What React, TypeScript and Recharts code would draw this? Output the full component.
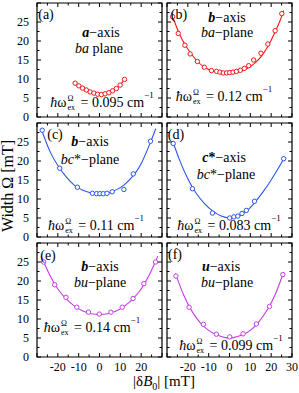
import React from 'react';
import { ComposedChart, XAxis, YAxis, Scatter, Line, ReferenceArea } from 'recharts';

const FONT = '"Liberation Serif", "Times New Roman", serif';

// axis ticks and labels
const xTicks = [-30, -25, -20, -15, -10, -5, 0, 5, 10, 15, 20, 25, 30];
const yTicks = [0, 2.5, 5, 7.5, 10, 12.5, 15, 17.5, 20, 22.5, 25, 27.5, 30];
const yLabels = [0, 5, 10, 15, 20, 25];
const xLabelsLeft = [-20, -10, 0, 10, 20];
const xLabelsRight = [-20, -10, 0, 10, 20, 30];

// (a) a-axis, ba plane
const aX = [-11.7, -9.9, -8.1, -6.3, -4.5, -2.7, -0.9, 0.9, 2.7, 4.5, 6.3, 8.1, 9.9, 12.0];
const aY = [8.9, 8.2, 7.6, 7.1, 6.6, 6.3, 6.0, 5.9, 6.1, 6.4, 6.9, 7.5, 8.4, 9.9];

// (b) b-axis, ba-plane
const bX = [-27.3, -24.6, -21.4, -18.9, -15.4, -12.1, -8.7, -6.2, -4.6, -3.0, -1.4, 0.1, 1.7, 3.3, 5.2, 7.1, 9.2, 11.6, 15.1, 18.4, 21.9, 25.1];
const bY = [26.4, 22.0, 18.9, 16.6, 14.6, 13.1, 12.2, 12.0, 11.8, 11.6, 11.6, 11.7, 11.8, 12.0, 12.3, 12.8, 13.5, 15.0, 16.8, 19.2, 22.7, 27.2];
const bFitX = [-28, -24, -20, -16, -12, -8, -4, 0, 4, 8, 12, 16, 20, 24, 26];
const bFitY = [27.5, 21.8, 17.9, 15.0, 13.1, 12.1, 11.6, 11.5, 11.8, 12.6, 14.1, 16.5, 20.2, 25.0, 28.0];

// (c) b-axis, bc*-plane
const cX = [-27.5, -19.1, -10.6, -3.4, -1.4, 0.2, 1.8, 3.6, 6.1, 11.7, 16.2, 24.5];
const cY = [28.1, 18.1, 13.1, 11.5, 11.4, 11.4, 11.4, 11.5, 11.9, 12.5, 16.6, 25.2];
const cFitX = [-28, -24, -20, -16, -12, -8, -4, 0, 4, 8, 12, 16, 20, 24, 27];
const cFitY = [28.5, 22.8, 18.8, 15.8, 13.6, 12.3, 11.6, 11.4, 11.6, 12.4, 13.8, 16.0, 19.3, 24.3, 28.5];

// (d) c*-axis, bc*-plane
const dX = [-27.0, -17.8, -8.2, 0.1, 2.1, 4.0, 6.0, 8.1, 12.0, 26.0];
const dY = [24.6, 12.7, 6.3, 5.0, 5.3, 5.5, 6.2, 7.0, 9.4, 20.6];
const dFitX = [-27, -24, -20, -16, -12, -8, -4, 0, 4, 8, 12, 16, 20, 24, 26];
const dFitY = [24.8, 20.3, 15.3, 11.5, 8.8, 6.8, 5.5, 5.0, 5.4, 6.7, 9.0, 11.8, 15.0, 18.6, 20.6];

// (e) b-axis, bu-plane
const eX = [-26.8, -21.5, -16.1, -10.9, -5.3, -0.1, 5.5, 10.9, 16.1, 21.3, 26.9];
const eY = [25.0, 19.0, 15.7, 13.1, 11.8, 11.3, 11.8, 13.1, 15.4, 19.3, 25.0];
const eFitX = [-28, -24, -20, -16, -12, -8, -4, 0, 4, 8, 12, 16, 20, 24, 28];
const eFitY = [26.5, 21.7, 17.9, 15.3, 13.4, 12.1, 11.4, 11.2, 11.4, 12.1, 13.4, 15.3, 17.9, 21.7, 26.5];

// (f) u-axis, bu-plane
const fX = [-25.7, -19.4, -12.5, -6.3, 0.1, 6.5, 12.9, 19.2, 25.6];
const fY = [21.3, 13.1, 8.6, 6.0, 5.3, 6.1, 8.7, 13.3, 21.7];
const fFitX = [-26, -22, -18, -14, -10, -6, -2, 0, 2, 6, 10, 14, 18, 22, 26];
const fFitY = [22.0, 16.3, 12.0, 9.0, 7.0, 5.8, 5.1, 5.0, 5.1, 5.8, 7.0, 9.2, 12.3, 16.5, 22.3];

const RED = '#f01818';
const BLUE = '#2a55ee';
const MAGENTA = '#c53ce8';

const PLOT_W = 125;
const PLOT_H = 114;
const PAD_L = 30;
const PAD_T = 2;
const PAD_R = 10;
const PAD_B = 22;

const zip = (xs: number[], ys: number[]) => xs.map((x, i) => ({ x, y: ys[i] }));

const XTick = (props: any) => {
  const { x, y, payload, labels } = props;
  const v = payload.value;
  const len = v % 10 === 0 ? 4 : 2.5;
  return (
    <g>
      <line x1={x} x2={x} y1={y} y2={y - len} stroke="#000" strokeWidth={1} />
      <line x1={x} x2={x} y1={y - PLOT_H} y2={y - PLOT_H + len} stroke="#000" strokeWidth={1} />
      {labels.includes(v) && (
        <text x={x} y={y + 14} textAnchor="middle" fontFamily={FONT} fontSize={12} fill="#000">
          {v}
        </text>
      )}
    </g>
  );
};

const YTick = (props: any) => {
  const { x, y, payload, labels } = props;
  const v = payload.value;
  const len = v % 5 === 0 ? 4 : 2.5;
  return (
    <g>
      <line x1={x} x2={x + len} y1={y} y2={y} stroke="#000" strokeWidth={1} />
      <line x1={x + PLOT_W} x2={x + PLOT_W - len} y1={y} y2={y} stroke="#000" strokeWidth={1} />
      {labels.includes(v) && (
        <text x={x - 8} y={y + 4} textAnchor="end" fontFamily={FONT} fontSize={12} fill="#000">
          {v}
        </text>
      )}
    </g>
  );
};

interface PanelProps {
  left: number;
  top: number;
  color: string;
  points: { x: number; y: number }[];
  fit: { x: number; y: number }[];
  xLabels: number[];
  yLabelsShown: number[];
}

function Panel({ left, top, color, points, fit, xLabels, yLabelsShown }: PanelProps) {
  return (
    <div style={{ position: 'absolute', left: left - PAD_L, top: top - PAD_T }}>
      <ComposedChart
        width={PLOT_W + PAD_L + PAD_R}
        height={PLOT_H + PAD_T + PAD_B}
        margin={{ top: PAD_T, right: PAD_R, left: 0, bottom: 0 }}
      >
        <XAxis
          type="number"
          dataKey="x"
          domain={[-30, 30]}
          ticks={xTicks}
          interval={0}
          height={PAD_B}
          axisLine={false}
          tickLine={false}
          tickSize={0}
          tickMargin={0}
          allowDataOverflow
          tick={(p: any) => <XTick {...p} labels={xLabels} />}
        />
        <YAxis
          type="number"
          dataKey="y"
          domain={[0, 30]}
          ticks={yTicks}
          interval={0}
          width={PAD_L}
          axisLine={false}
          tickLine={false}
          tickSize={0}
          tickMargin={0}
          allowDataOverflow
          tick={(p: any) => <YTick {...p} labels={yLabelsShown} />}
        />
        <ReferenceArea x1={-30} x2={30} y1={0} y2={30} fill="none" stroke="#000" strokeWidth={1.2} />
        <Line
          data={fit}
          dataKey="y"
          type="natural"
          stroke={color}
          strokeWidth={1.1}
          dot={false}
          activeDot={false}
          isAnimationActive={false}
        />
        <Scatter
          data={points}
          isAnimationActive={false}
          shape={(p: any) => (
            <circle cx={p.cx} cy={p.cy} r={2.2} fill="#fff" stroke={color} strokeWidth={1} />
          )}
        />
      </ComposedChart>
    </div>
  );
}

const Centered = ({ cx, cy, children, size = 14 }: { cx: number; cy: number; children: React.ReactNode; size?: number }) => (
  <div
    style={{
      position: 'absolute',
      left: cx,
      top: cy,
      transform: 'translate(-50%, -50%)',
      whiteSpace: 'nowrap',
      fontFamily: FONT,
      fontSize: size,
      lineHeight: `${size}px`,
      color: '#000',
    }}
  >
    {children}
  </div>
);

const Hbar = ({ value }: { value: string }) => (
  <span>
    <i>ħ</i>ω
    <span
      style={{
        display: 'inline-flex',
        flexDirection: 'column',
        verticalAlign: 'middle',
        fontSize: 8,
        lineHeight: '9px',
        margin: '0 2px 0 1px',
        position: 'relative',
        top: -1,
      }}
    >
      <span>Ω</span>
      <span>ex</span>
    </span>
    {' '}= {value} cm<span style={{ fontSize: 9, lineHeight: '9px', verticalAlign: 'top', position: 'relative', top: -4 }}>−1</span>
  </span>
);

const COL = [37, 167];
const ROW = [3, 123, 243];

export default function App() {
  return (
    <div style={{ position: 'absolute', left: 0, top: 0, width: 299, height: 393, background: '#fff', overflow: 'hidden' }}>
      <Panel left={COL[0]} top={ROW[0]} color={RED} points={zip(aX, aY)} fit={zip(aX, aY)} xLabels={[]} yLabelsShown={yLabels} />
      <Panel left={COL[1]} top={ROW[0]} color={RED} points={zip(bX, bY)} fit={zip(bFitX, bFitY)} xLabels={[]} yLabelsShown={[]} />
      <Panel left={COL[0]} top={ROW[1]} color={BLUE} points={zip(cX, cY)} fit={zip(cFitX, cFitY)} xLabels={[]} yLabelsShown={yLabels} />
      <Panel left={COL[1]} top={ROW[1]} color={BLUE} points={zip(dX, dY)} fit={zip(dFitX, dFitY)} xLabels={[]} yLabelsShown={[]} />
      <Panel left={COL[0]} top={ROW[2]} color={MAGENTA} points={zip(eX, eY)} fit={zip(eFitX, eFitY)} xLabels={xLabelsLeft} yLabelsShown={yLabels} />
      <Panel left={COL[1]} top={ROW[2]} color={MAGENTA} points={zip(fX, fY)} fit={zip(fFitX, fFitY)} xLabels={xLabelsRight} yLabelsShown={[]} />

      {/* panel letters */}
      <Centered cx={46} cy={15}>(a)</Centered>
      <Centered cx={179} cy={15}>(b)</Centered>
      <Centered cx={55} cy={135}>(c)</Centered>
      <Centered cx={176} cy={135}>(d)</Centered>
      <Centered cx={48} cy={256}>(e)</Centered>
      <Centered cx={175} cy={255}>(f)</Centered>

      {/* axis / plane labels */}
      <Centered cx={101} cy={33}><b><i>a</i></b>−axis</Centered>
      <Centered cx={99} cy={49}><i>ba</i> plane</Centered>
      <Centered cx={227} cy={18}><b><i>b</i></b>−axis</Centered>
      <Centered cx={227} cy={33}><i>ba</i>−plane</Centered>
      <Centered cx={90} cy={142}><b><i>b</i></b>−axis</Centered>
      <Centered cx={90} cy={160}><i>bc</i>*−plane</Centered>
      <Centered cx={224} cy={158}><b><i>c</i>*</b>−axis</Centered>
      <Centered cx={226} cy={175}><i>bc</i>*−plane</Centered>
      <Centered cx={100} cy={267}><b><i>b</i></b>−axis</Centered>
      <Centered cx={100} cy={283}><i>bu</i>−plane</Centered>
      <Centered cx={221} cy={267}><b><i>u</i></b>−axis</Centered>
      <Centered cx={227} cy={283}><i>bu</i>−plane</Centered>

      {/* exchange frequencies */}
      <Centered cx={102} cy={104}><Hbar value="0.095" /></Centered>
      <Centered cx={224} cy={98}><Hbar value="0.12" /></Centered>
      <Centered cx={96} cy={227}><Hbar value="0.11" /></Centered>
      <Centered cx={229} cy={227}><Hbar value="0.083" /></Centered>
      <Centered cx={92} cy={329}><Hbar value="0.14" /></Centered>
      <Centered cx={231} cy={347}><Hbar value="0.099" /></Centered>

      {/* axis titles */}
      <div
        style={{
          position: 'absolute',
          left: 8,
          top: 186,
          transform: 'translate(-50%, -50%) rotate(-90deg)',
          whiteSpace: 'nowrap',
          fontFamily: FONT,
          fontSize: 16,
          lineHeight: '16px',
        }}
      >
        Width Ω [mT]
      </div>
      <Centered cx={164} cy={384} size={15}>
        |δ<i>B</i><sub style={{ fontSize: 10 }}>0</sub>| [mT]
      </Centered>
    </div>
  );
}
